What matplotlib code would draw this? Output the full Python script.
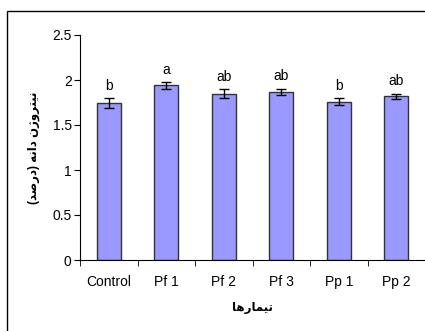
import matplotlib
matplotlib.use("Agg")
import matplotlib.pyplot as plt
from matplotlib.patches import Rectangle
import numpy as np

plt.rcParams['font.family'] = ['Liberation Sans', 'DejaVu Sans']

# data
treatments = ["Control", "Pf 1", "Pf 2", "Pf 3", "Pp 1", "Pp 2"]
nitrogen = [1.74, 1.94, 1.85, 1.87, 1.76, 1.82]
errors = [0.055, 0.035, 0.05, 0.035, 0.04, 0.028]
letters = ["b", "a", "ab", "ab", "b", "ab"]

# Persian labels, pre-shaped (presentation forms, visual order)
ylabel_fa = "(\ufeaa\ufebb\ufead\ufea9) \ufeea\ufee7\ufe8d\ufea9 \ufee5\ufb8a\ufeed\ufeae\ufe98\ufef4\ufee7"
xlabel_fa = "\ufe8e\ufeeb\ufead\ufe8e\ufee4\ufef4\ufe97"

fig = plt.figure(figsize=(4.25, 3.31), dpi=100)
# outer chart-area frame
fig.patches.append(Rectangle((7 / 425, -0.1), 1.2, 1 - 11 / 331 + 0.1,
                             transform=fig.transFigure, fill=False,
                             edgecolor="black", linewidth=1.0))

ax = fig.add_axes([80 / 425, 1 - 260 / 331, 1 - 80 / 425, (260 - 35) / 331])
x = np.arange(len(treatments))
ax.bar(x, nitrogen, width=0.42, color="#9999ff", edgecolor="#333333",
       linewidth=1.0, yerr=errors, capsize=3.5,
       error_kw=dict(ecolor="black", elinewidth=1.0, capthick=1.0))

for xi, v, e, t in zip(x, nitrogen, errors, letters):
    ax.text(xi, v + e + 0.06, t, ha="center", va="bottom", fontsize=10)

ax.set_xlim(-0.5, len(treatments) - 0.5)
ax.set_ylim(0, 2.5)
ax.set_yticks(np.arange(0, 2.51, 0.5))
ax.set_yticklabels(["0", "0.5", "1", "1.5", "2", "2.5"])
ax.set_xticks(x)
ax.set_xticklabels(treatments)
ax.set_xticks(np.arange(-0.5, len(treatments), 1.0), minor=True)
ax.tick_params(axis="x", which="major", length=0, pad=11, labelsize=10)
ax.tick_params(axis="x", which="minor", length=4, direction="out")
ax.tick_params(axis="y", length=4, direction="out", labelsize=10, pad=2)

for s in ["top", "right"]:
    ax.spines[s].set_visible(False)

ax.set_ylabel(ylabel_fa, fontsize=8.5, fontweight="bold", labelpad=9)
ax.set_xlabel(xlabel_fa, fontsize=8.5, fontweight="bold", labelpad=9)

fig.savefig("out.png", dpi=100)
